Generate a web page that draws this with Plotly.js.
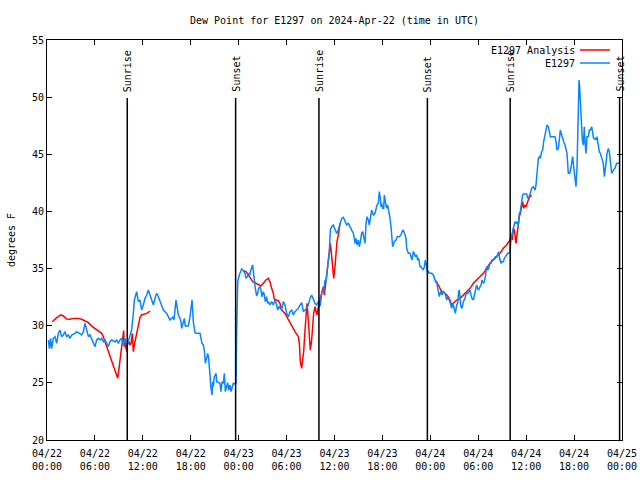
<!DOCTYPE html>
<html>
<head>
<meta charset="utf-8">
<script src="https://cdn.plot.ly/plotly-3.0.1.min.js"></script>
<style>html,body{margin:0;padding:0;background:#fff}#chart{width:640px;height:480px}</style>
</head>
<body>
<div id="chart"></div>
<script>
// Hours after 2024-04-22 00:00 UTC
const blueHours = [0.17,0.3,0.45,0.58,0.79,1.0,1.21,1.42,1.63,1.84,2.05,2.25,2.46,2.67,2.88,3.09,3.51,3.71,3.92,4.13,4.34,4.55,4.76,4.97,5.18,5.38,5.59,5.80,6.01,6.22,6.43,6.64,6.85,7.05,7.26,7.68,7.89,8.10,8.52,8.72,8.93,9.14,9.35,9.56,9.77,9.98,10.19,10.39,10.60,10.81,10.94,11.23,11.44,11.65,11.85,12.06,12.27,12.48,12.69,12.90,13.11,13.32,13.52,13.73,13.94,
14.15,14.36,14.57,14.78,14.99,15.19,15.40,15.61,15.82,15.90,16.03,16.15,16.32,16.44,16.65,16.78,16.86,17.07,17.20,17.32,17.70,17.91,18.03,18.16,18.24,18.32,18.53,18.74,19.16,19.29,19.41,19.58,19.70,19.83,19.99,20.12,20.24,20.33,20.41,20.54,20.66,20.75,20.83,20.95,21.08,21.16,21.25,21.45,21.66,21.79,21.92,22.08,22.21,22.33,22.50,22.62,22.75,22.92,23.04,23.17,23.33,23.54,23.67,23.75,23.88,24.08,24.25,24.37,24.58,24.79,24.92,25.09,25.21,25.34,25.50,25.63,25.75,25.84,25.96,26.09,26.25,26.38,26.50,26.67,26.80,26.92,27.09,27.21,27.34,27.50,27.63,27.75,27.92,28.13,28.34,
28.55,28.76,28.88,29.05,29.18,29.38,29.59,29.80,30.01,30.22,30.43,30.64,30.85,31.05,31.26,31.47,31.68,31.89,32.10,32.31,32.52,32.72,32.93,33.14,33.35,33.56,33.77,33.98,34.10,34.23,34.39,34.52,34.64,34.81,34.94,35.06,35.23,35.35,35.48,35.65,35.85,36.06,36.27,36.48,36.69,36.90,37.11,37.32,37.52,37.73,37.94,38.15,38.36,38.48,38.57,38.69,38.82,38.99,39.11,39.24,39.40,39.53,39.65,39.82,39.95,40.07,40.24,40.36,40.49,40.65,40.78,40.90,41.07,41.20,41.32,41.49,41.61,41.74,41.82,41.91,42.03,42.16,42.24,42.37,42.53,42.66,42.78,42.95,43.08,43.16,43.28,
43.49,43.70,43.87,44.12,44.33,44.54,44.70,44.83,44.95,45.04,45.25,45.45,45.58,45.70,45.87,46.00,46.12,46.29,46.41,46.54,46.71,46.83,46.96,47.12,47.25,47.37,47.46,47.54,47.67,47.79,47.96,48.17,48.38,48.58,48.79,49.00,49.13,49.21,49.34,49.46,49.63,49.84,49.96,50.05,50.17,50.30,50.46,50.67,50.80,50.88,51.01,51.13,51.30,51.42,51.55,51.63,51.72,51.84,51.97,52.13,52.34,52.55,52.68,52.80,52.97,53.09,53.22,53.39,53.51,53.64,53.80,53.93,54.05,54.22,54.35,54.47,54.64,54.76,54.89,55.05,55.18,55.31,55.47,55.60,55.72,55.89,56.01,56.14,56.31,56.43,56.56,56.72,56.85,56.97,57.14,57.27,57.39,57.56,57.68,57.81,57.98,
58.10,58.27,58.39,58.60,58.73,58.85,59.02,59.14,59.27,59.44,59.56,59.69,59.85,60.06,60.19,60.36,60.52,60.69,60.90,61.11,61.23,61.36,61.52,61.65,61.77,61.94,62.07,62.19,62.36,62.48,62.61,62.78,62.90,63.03,63.19,63.40,63.61,63.74,63.86,64.03,64.15,64.28,64.45,64.57,64.70,64.86,64.99,65.11,65.28,65.41,65.53,65.70,65.82,65.95,66.12,66.24,66.37,66.45,66.53,66.62,66.70,66.78,66.87,66.95,67.03,67.16,67.28,67.37,67.49,67.62,67.79,67.91,68.04,68.20,68.33,68.45,68.62,68.75,68.87,69.04,69.16,69.29,69.45,69.66,69.79,69.87,70.00,70.12,70.29,70.41,70.54,70.71,70.92,71.12,71.33,71.54,71.75];
const blueDew = [28.75,28.0,28.9,28.0,28.9,29.04,28.46,29.33,29.62,29.04,29.19,29.48,29.04,29.19,28.9,29.19,29.33,29.48,29.4,29.33,29.19,29.48,30.21,29.62,29.04,29.19,28.9,28.6,28.17,28.75,28.9,28.75,28.9,28.6,28.75,28.17,28.6,28.75,28.6,28.75,28.46,28.75,28.9,28.31,28.9,28.17,28.6,29.04,29.62,31.08,32.25,32.98,32.10,32.25,31.37,31.81,32.40,32.69,33.12,32.69,32.25,31.81,32.40,32.83,32.54,
32.10,31.81,31.37,31.23,31.08,30.79,30.50,30.64,30.79,30.50,31.52,32.25,31.52,30.94,30.64,30.35,29.77,30.21,30.64,29.97,29.97,30.79,31.52,32.25,31.37,30.35,29.39,29.33,29.33,28.75,28.46,28.31,27.87,26.71,27.29,27.58,27.15,26.27,25.40,24.52,23.94,25.10,24.67,25.54,25.69,25.83,25.10,25.02,24.96,24.23,25.10,24.96,25.83,24.23,24.81,25.02,24.37,24.81,24.23,24.67,24.96,24.90,24.96,29.33,33.85,34.44,34.81,34.96,34.81,34.58,34.14,34.29,34.58,34.35,34.81,35.22,35.31,34.73,33.71,33.27,32.60,32.83,33.27,33.41,33.12,32.54,32.98,32.69,32.10,32.54,31.96,32.10,31.81,32.10,31.81,
32.25,31.81,31.37,31.66,31.52,31.37,32.10,31.81,31.08,30.79,31.23,31.37,30.94,31.23,31.37,31.52,31.81,32.02,31.23,31.37,31.52,31.81,32.39,32.69,32.39,31.96,31.81,32.10,31.66,31.81,32.83,33.12,32.98,34.0,33.85,34.73,35.46,36.48,38.37,38.66,38.81,38.37,38.08,38.37,38.96,39.39,39.48,39.10,38.81,38.96,38.66,38.37,38.08,37.64,37.21,37.64,37.06,37.50,36.91,37.35,38.08,38.23,37.64,37.21,38.96,39.54,39.25,38.81,39.39,40.12,39.83,39.69,39.83,40.27,40.56,40.71,41.73,41.14,40.41,40.71,40.27,40.27,41.44,40.85,40.27,40.56,40.12,39.39,38.66,37.79,36.91,
37.35,37.50,37.79,37.79,37.94,38.37,38.23,37.94,37.64,36.77,36.33,36.33,35.89,35.75,36.48,36.33,36.04,36.19,35.75,35.89,35.17,35.17,35.02,34.87,35.17,35.75,35.46,34.87,34.58,34.73,34.58,34.58,34.44,34.0,33.85,32.98,32.54,32.83,32.98,32.69,32.98,32.83,32.54,32.25,32.54,32.39,32.10,31.52,31.96,31.81,31.37,31.08,31.81,31.96,32.98,33.12,32.39,31.66,31.52,32.10,32.39,32.98,32.83,32.98,33.12,32.69,32.39,32.25,32.69,33.27,33.56,33.27,33.12,33.41,33.56,34.0,33.71,33.85,34.29,35.17,34.87,35.02,35.46,35.46,35.75,35.75,35.89,36.04,36.04,36.33,36.48,35.75,35.46,35.60,35.60,35.89,36.04,36.19,36.33,36.33,36.48,
37.64,38.08,38.37,39.10,38.96,39.10,38.81,39.83,39.98,40.71,41.44,41.52,41.52,41.52,41.14,41.29,41.58,42.02,42.16,41.87,42.31,43.18,44.64,44.79,44.64,45.23,45.37,46.10,46.68,47.12,47.56,47.41,46.98,46.54,46.54,46.54,46.54,46.10,45.37,45.52,46.25,47.12,46.68,46.25,46.10,45.81,45.37,45.08,43.33,43.33,43.48,44.50,44.79,43.91,43.04,42.16,43.91,47.12,50.04,51.50,50.91,49.75,49.16,48.29,46.25,45.81,47.41,46.10,45.08,46.54,46.54,47.12,47.12,47.41,46.83,46.39,46.39,46.25,46.54,45.81,45.23,45.08,44.64,44.21,43.04,43.77,44.21,45.08,45.52,45.23,44.50,43.33,43.62,43.77,44.21,44.21,44.21];

const redHours = [0.67,1.21,1.75,2.05,2.46,2.88,3.30,3.92,4.34,4.76,5.18,5.59,6.01,6.43,6.85,7.05,7.26,7.47,7.68,7.89,8.10,8.31,8.52,8.72,8.85,9.02,9.14,9.35,9.47,9.60,9.68,9.77,9.89,9.98,10.10,10.27,10.39,10.52,10.69,10.81,11.02,11.23,11.44,11.65,11.85,12.27,12.48,12.69,12.90,
18.0,
24.58,24.92,25.21,25.50,25.75,26.05,26.46,26.80,27.09,27.42,27.71,27.92,28.13,28.34,28.46,28.76,28.96,29.17,29.38,29.80,30.22,30.64,31.05,31.47,31.60,31.72,31.89,32.01,32.14,32.31,32.43,32.56,32.72,32.85,32.97,33.14,33.27,33.39,33.56,33.68,33.81,33.98,34.19,34.39,34.60,34.73,34.89,35.02,35.14,35.31,35.48,35.65,35.77,35.90,36.06,36.19,36.31,36.48,36.69,
42.0,
48.58,48.79,49.00,49.21,49.42,49.63,49.84,50.05,50.25,50.46,50.67,50.88,51.09,51.30,51.72,52.13,52.55,52.97,53.39,53.80,54.22,54.64,55.05,55.47,55.89,56.31,56.72,57.14,57.56,57.98,58.10,58.27,58.39,58.52,58.60,58.73,58.85,58.94,59.02,59.14,59.27,59.44,59.56,59.69,59.85,59.98,60.10,60.27,60.48,60.69];
const redDew = [30.35,30.70,30.94,30.85,30.59,30.56,30.64,30.64,30.56,30.44,30.27,29.97,29.77,29.54,29.33,29.04,28.60,28.17,27.73,27.29,27.00,26.56,26.12,25.69,25.40,26.27,27.00,27.73,28.75,29.57,28.17,28.75,28.02,27.73,28.46,28.60,28.31,28.46,29.33,27.73,28.60,29.33,30.06,30.73,30.94,31.02,31.08,31.17,31.29,
null,
34.81,34.73,34.44,34.14,33.85,33.76,33.56,33.47,33.71,34.00,34.14,33.85,33.27,32.83,32.31,32.25,32.19,31.96,31.37,31.08,30.50,30.06,29.48,29.04,28.46,26.85,26.27,27.00,27.73,29.62,30.79,31.96,30.50,28.46,27.87,28.75,29.91,31.08,31.66,31.23,30.94,31.66,32.25,32.98,33.41,32.69,33.71,34.44,35.60,36.48,37.21,36.04,35.02,34.14,35.17,36.48,37.35,37.93,38.96,
null,
33.85,33.79,33.56,33.27,32.98,32.98,32.83,32.69,32.54,32.25,31.81,31.96,32.10,32.25,32.39,32.69,32.98,33.27,33.71,34.00,34.29,34.58,35.02,35.46,35.75,36.04,36.33,36.77,37.06,37.50,37.94,37.50,38.52,38.37,37.79,37.21,37.94,38.52,38.96,39.54,39.83,40.41,40.85,40.27,40.56,40.41,40.71,41.00,41.29,41.44];

const sunHours = [10.05, 23.62, 34.05, 47.63, 58.0, 71.7];
const sunLabels = ['Sunrise','Sunset','Sunrise','Sunset','Sunrise','Sunset'];
const tickHours = [0,6,12,18,24,30,36,42,48,54,60,66,72];
const tickLabels = ['04/22<br>00:00','04/22<br>06:00','04/22<br>12:00','04/22<br>18:00','04/23<br>00:00','04/23<br>06:00','04/23<br>12:00','04/23<br>18:00','04/24<br>00:00','04/24<br>06:00','04/24<br>12:00','04/24<br>18:00','04/25<br>00:00'];
const yTicks = [20,25,30,35,40,45,50,55];

const base = Date.UTC(2024,3,22,0,0,0);
function toDate(h){ return new Date(base + h*3600000).toISOString().replace('T',' ').slice(0,19); }

const FONT = 'DejaVu Sans Mono, monospace';
const traces = [
  {x: redHours.map(toDate), y: redDew, type:'scatter', mode:'lines', name:'E1297 Analysis',
   line:{color:'#ff0000', width:1.5}, connectgaps:false, showlegend:false},
  {x: blueHours.map(toDate), y: blueDew, type:'scatter', mode:'lines', name:'E1297',
   line:{color:'#0a84ff', width:1.5}, showlegend:false}
];

const shapes = sunHours.map(h => ({type:'line', xref:'x', yref:'paper', x0:toDate(h), x1:toDate(h), y0:0, y1:0.855,
  line:{color:'#000', width:1.5}}));
const annotations = sunHours.map((h,i) => ({xref:'x', yref:'paper', x:toDate(h), y:0.865, text:sunLabels[i],
  textangle:-90, showarrow:false, xanchor:'center', yanchor:'bottom', font:{family:FONT, size:10, color:'#000'}}));

// legend (gnuplot style: text then line sample)
const legendNames = [traces[0].name, traces[1].name];
const legendColors = ['#ff0000', '#0a84ff'];
const legY = [0.975, 0.9425];
legendNames.forEach((n,i) => {
  annotations.push({xref:'paper', yref:'paper', x:0.921, y:legY[i], text:n, showarrow:false,
    xanchor:'right', yanchor:'middle', font:{family:FONT, size:10, color:'#000'}});
  shapes.push({type:'line', xref:'paper', yref:'paper', x0:0.927, x1:0.979, y0:legY[i], y1:legY[i],
    line:{color:legendColors[i], width:1.5}});
});

const layout = {
  width:640, height:480,
  margin:{l:47, r:18, t:40, b:40},
  paper_bgcolor:'#fff', plot_bgcolor:'#fff',
  font:{family:FONT, size:10, color:'#000'},
  title:{text:'Dew Point for E1297 on 2024-Apr-22 (time in UTC)', xref:'paper', x:0.5, xanchor:'center', y:0.958, yanchor:'middle',
    font:{family:FONT, size:10, color:'#000'}},
  xaxis:{type:'date', range:[toDate(0), toDate(72)], tickvals:tickHours.map(toDate), ticktext:tickLabels,
    ticks:'inside', ticklen:5, tickcolor:'#000', showline:true, linecolor:'#000', linewidth:1, mirror:'ticks',
    ticklabelstandoff:4,
    showgrid:false, zeroline:false, tickfont:{family:FONT, size:10, color:'#000'}},
  yaxis:{range:[20,55], tickvals:yTicks, ticks:'inside', ticklen:5, tickcolor:'#000', showline:true, linecolor:'#000',
    linewidth:1, mirror:'ticks', showgrid:false, zeroline:false, tickfont:{family:FONT, size:10, color:'#000'},
    title:{text:'degrees F', font:{family:FONT, size:10, color:'#000'}, standoff:14}},
  shapes: shapes,
  annotations: annotations
};

Plotly.newPlot('chart', traces, layout, {staticPlot:true, displayModeBar:false});
</script>
</body>
</html>
